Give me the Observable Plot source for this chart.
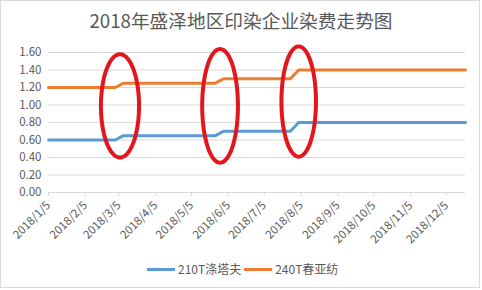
<!DOCTYPE html>
<html>
<head>
<meta charset="utf-8">
<script src="https://cdn.jsdelivr.net/npm/d3@7"></script>
<script src="https://cdn.jsdelivr.net/npm/@observablehq/plot@0.6"></script>
<style>
  html, body { margin: 0; padding: 0; background: #fff; }
  body { width: 482px; height: 290px; position: relative; overflow: hidden;
         font-family: "Noto Sans CJK SC", "Noto Sans", sans-serif; }
  #frame { position: absolute; left: 0; top: 0; width: 480px; height: 288px;
           border: 1px solid #d9d9d9; box-sizing: border-box; }
  #title { position: absolute; left: 0; width: 482px; top: 7px; text-align: center;
           font-size: 18.7px; color: #595959; line-height: 26px; }
  #chart { position: absolute; left: 0; top: 0; }
  #legend { position: absolute; top: 260px; left: 147px; font-size: 12px; color: #595959;
            display: flex; align-items: center; line-height: 18px; }
  .sw { display: inline-block; width: 28px; height: 3px; margin-right: 3px; }
  .item { display: flex; align-items: center; margin-right: 3px; }
</style>
</head>
<body>
<div id="frame"></div>
<div id="title"></div>
<div id="chart"></div>
<div id="legend"></div>
<script>
const titleText = "2018年盛泽地区印染企业染费走势图";
const seriesNames = ["210T涤塔夫", "240T春亚纺"];
const seriesColors = ["#5B9BD5", "#ED7D31"];

// weekly observations, starting 2018/1/5
const firstWeek = "2018-01-05";
const lastWeek = "2018-12-21";
const blueValues = [
  0.60, 0.60, 0.60, 0.60, 0.60, 0.60, 0.60, 0.60, 0.60,
  0.65, 0.65, 0.65, 0.65, 0.65, 0.65, 0.65, 0.65, 0.65, 0.65, 0.65, 0.65,
  0.70, 0.70, 0.70, 0.70, 0.70, 0.70, 0.70, 0.70, 0.70,
  0.80, 0.80, 0.80, 0.80, 0.80, 0.80, 0.80, 0.80, 0.80, 0.80, 0.80,
  0.80, 0.80, 0.80, 0.80, 0.80, 0.80, 0.80, 0.80, 0.80, 0.80
];
const orangeValues = [
  1.20, 1.20, 1.20, 1.20, 1.20, 1.20, 1.20, 1.20, 1.20,
  1.25, 1.25, 1.25, 1.25, 1.25, 1.25, 1.25, 1.25, 1.25, 1.25, 1.25, 1.25,
  1.30, 1.30, 1.30, 1.30, 1.30, 1.30, 1.30, 1.30, 1.30,
  1.40, 1.40, 1.40, 1.40, 1.40, 1.40, 1.40, 1.40, 1.40, 1.40, 1.40,
  1.40, 1.40, 1.40, 1.40, 1.40, 1.40, 1.40, 1.40, 1.40, 1.40
];

const xTickDates = ["2018-01-05","2018-02-05","2018-03-05","2018-04-05","2018-05-05","2018-06-05",
                    "2018-07-05","2018-08-05","2018-09-05","2018-10-05","2018-11-05","2018-12-05"];
const xTickLabels = ["2018/1/5","2018/2/5","2018/3/5","2018/4/5","2018/5/5","2018/6/5",
                     "2018/7/5","2018/8/5","2018/9/5","2018/10/5","2018/11/5","2018/12/5"];
const yTicks = [0, 0.2, 0.4, 0.6, 0.8, 1.0, 1.2, 1.4, 1.6];
const yTickLabels = ["0.00","0.20","0.40","0.60","0.80","1.00","1.20","1.40","1.60"];

// red hand-drawn ellipse annotations: center date, center value, half-width (days), half-height (value)
const ellipseCenters = ["2018-03-06", "2018-05-29", "2018-08-03"];
const ellipseCenterValues = [0.99, 0.99, 1.04];
const ellipseHalfDays = [16, 15, 14.5];
const ellipseHalfValues = [0.59, 0.65, 0.63];

const weeks = d3.utcDay.range(new Date(firstWeek), d3.utcDay.offset(new Date(lastWeek), 1), 7);
const rows = [];
weeks.forEach((d, i) => {
  rows.push({date: d, value: blueValues[i], series: seriesNames[0]});
  rows.push({date: d, value: orangeValues[i], series: seriesNames[1]});
});

const ellipsePts = [];
ellipseCenters.forEach((c, k) => {
  const cd = new Date(c);
  for (let i = 0; i <= 60; i++) {
    const t = (i / 60) * 2 * Math.PI;
    ellipsePts.push({
      id: k,
      date: new Date(+cd + Math.cos(t) * ellipseHalfDays[k] * 864e5),
      value: ellipseCenterValues[k] + Math.sin(t) * ellipseHalfValues[k]
    });
  }
});

const tickDates = xTickDates.map(s => new Date(s));
const labelOf = new Map(tickDates.map((d, i) => [+d, xTickLabels[i]]));
const yLabelOf = new Map(yTicks.map((v, i) => [v, yTickLabels[i]]));

const chart = Plot.plot({
  width: 482,
  height: 290,
  marginTop: 52,
  marginBottom: 98,
  marginLeft: 48,
  marginRight: 17,
  style: {fontFamily: '"Noto Sans CJK SC", "Noto Sans", sans-serif', fontSize: "11.5px", color: "#595959", background: "transparent", overflow: "visible"},
  x: {type: "utc", domain: [new Date(firstWeek), new Date(lastWeek)], ticks: tickDates,
      tickFormat: d => labelOf.get(+d), tickRotate: -45, tickSize: 0, tickPadding: 11, label: null},
  y: {domain: [0, 1.6], ticks: yTicks, tickFormat: v => yLabelOf.get(v), tickSize: 0, tickPadding: 7, label: null},
  color: {domain: seriesNames, range: seriesColors},
  marks: [
    Plot.ruleY(yTicks, {stroke: "#d9d9d9", strokeWidth: 1}),
    Plot.ruleX(tickDates, {y1: 0, y2: -0.045, stroke: "#d9d9d9"}),
    Plot.line(rows, {x: "date", y: "value", z: "series", stroke: "series", strokeWidth: 3, strokeLinecap: "round", strokeLinejoin: "round"}),
    Plot.line(ellipsePts, {x: "date", y: "value", z: "id", stroke: "#E3161E", strokeWidth: 4, curve: "catmull-rom"})
  ]
});
document.getElementById("chart").appendChild(chart);
document.getElementById("title").textContent = titleText;

const legend = document.getElementById("legend");
seriesNames.forEach((name, i) => {
  const item = document.createElement("span");
  item.className = "item";
  const sw = document.createElement("span");
  sw.className = "sw";
  sw.style.background = seriesColors[i];
  item.appendChild(sw);
  const t = document.createElement("span");
  t.textContent = name;
  item.appendChild(t);
  legend.appendChild(item);
});
</script>
</body>
</html>
